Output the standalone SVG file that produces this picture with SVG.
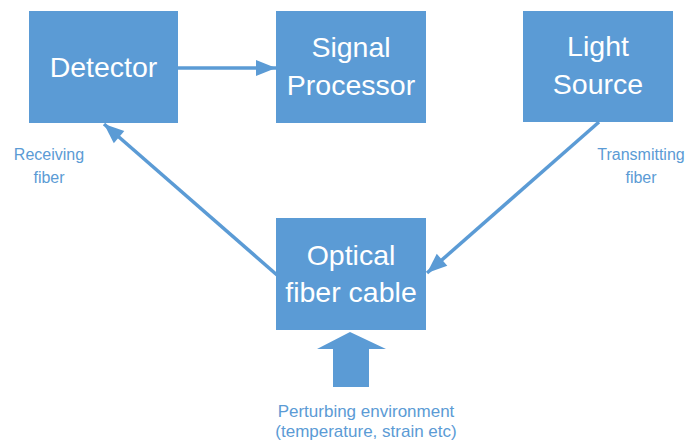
<svg xmlns="http://www.w3.org/2000/svg" width="691" height="442" viewBox="0 0 691 442">
<defs>
<style>
.box{fill:#5B9BD5}
.bt{fill:#FFFFFF;font-family:"Liberation Sans",Arial,sans-serif;font-size:28.5px;text-anchor:middle}
.lbl{fill:#5B9BD5;font-family:"Liberation Sans",Arial,sans-serif;font-size:16px;text-anchor:middle}
.conn{stroke:#5B9BD5;stroke-width:3.5;fill:none;marker-end:url(#ah)}
</style>
<marker id="ah" markerUnits="userSpaceOnUse" viewBox="0 0 20 20" refX="20" refY="10" markerWidth="22" markerHeight="20" orient="auto">
<path d="M0,2 L20,10 L0,18 Z" fill="#5B9BD5"/>
</marker>
</defs>
<rect width="691" height="442" fill="#FFFFFF"/>
<g id="detector">
<rect class="box" x="29" y="11" width="149" height="112"/>
<text class="bt" x="103.5" y="77">Detector</text>
</g>
<g id="signal-processor">
<rect class="box" x="276" y="11" width="150" height="112"/>
<text class="bt" x="351" y="57">Signal</text>
<text class="bt" x="351" y="95">Processor</text>
</g>
<g id="light-source">
<rect class="box" x="523" y="11" width="150" height="111"/>
<text class="bt" x="598" y="56">Light</text>
<text class="bt" x="598" y="94">Source</text>
</g>
<g id="optical-fiber-cable">
<rect class="box" x="276" y="218" width="150" height="112"/>
<text class="bt" x="351" y="265">Optical</text>
<text class="bt" x="351" y="302">fiber cable</text>
</g>
<g id="perturbing-environment">
<path d="M350,332 L386,349 L369,349 L369,387 L333,387 L333,349 L317,349 Z" fill="#5B9BD5"/>
<text class="lbl" x="366" y="417" style="font-size:17px">Perturbing environment</text>
<text class="lbl" x="366" y="437" style="font-size:17px">(temperature, strain etc)</text>
</g>
<g id="connectors">
<line class="conn" x1="178" y1="68" x2="276" y2="68"/>
<line class="conn" x1="277" y1="275" x2="104" y2="124"/>
<line class="conn" x1="599" y1="122" x2="427" y2="273"/>
</g>
<g id="labels">
<text class="lbl" x="49" y="160">Receiving</text>
<text class="lbl" x="49" y="183">fiber</text>
<text class="lbl" x="641" y="160">Transmitting</text>
<text class="lbl" x="641" y="183">fiber</text>
</g>
</svg>
